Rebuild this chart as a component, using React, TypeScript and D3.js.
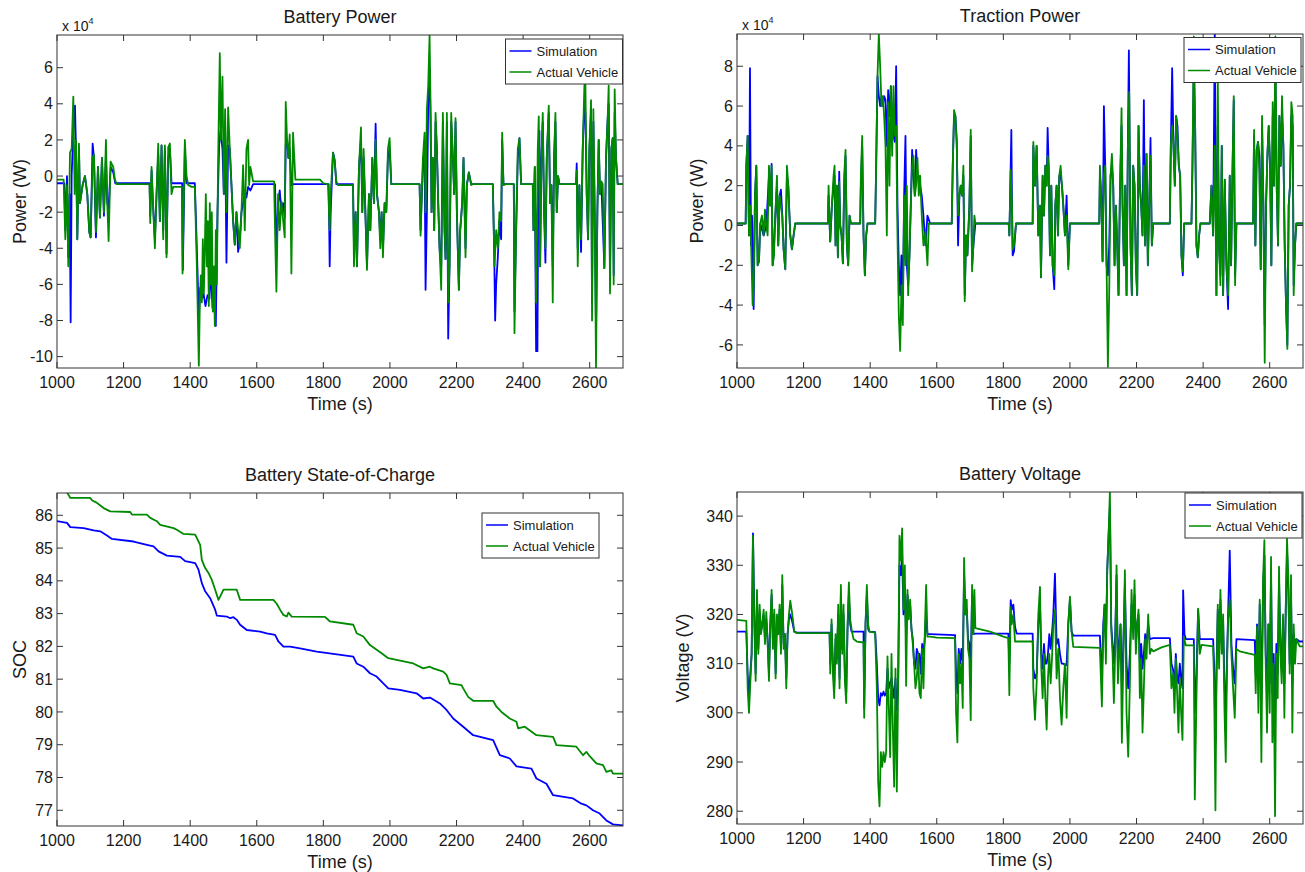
import React from 'react';
import * as d3 from 'd3';

type Pt = [number, number];

// shared x axis
const timeDomain: Pt = [1000, 2700];
const timeTicks = [1000, 1200, 1400, 1600, 1800, 2000, 2200, 2400, 2600];
const legendLabels = ['Simulation', 'Actual Vehicle'];

// Battery power (x 10^4 W)
const batPowerTicks = [-10, -8, -6, -4, -2, 0, 2, 4, 6];
const batPowerSim: Pt[] = [
  [1000,-0.4],[1022,-0.4],[1025,-3],[1030,0],[1034,-4.5],[1038,-1],[1041,-8.1],[1044,0],[1049,2.5],[1054,3.9],[1057,1.5],[1061,-3.5],[1066,1.5],[1069,-1.5],[1077,-0.5],[1084,0],[1091,-1],[1097,-3.1],[1101,-3.4],[1107,1.8],[1111,1.0],[1117,-3.4],[1123,0.5],[1129,-2.3],[1135,1.0],[1141,-2.2],[1147,1.0],[1151,-1.5],[1155,-1.8],[1161,0.5],[1169,0.2],[1175,-0.4],
  [1278,-0.4],[1280,-2.2],[1284,0.3],[1289,-1.8],[1294,-3.5],[1299,-1],[1304,1.2],[1309,-2.5],[1314,1.7],[1319,-3.0],[1324,1.5],[1329,-4.3],[1334,1.0],[1339,1.5],[1344,-0.4],[1376,-0.4],[1378,-5.2],[1384,1.5],[1389,-0.4],[1414,-0.4],
  [1420,-4],[1426,-7.8],[1430,-6.2],[1434,-6.8],[1440,-6.5],[1446,-7.2],[1452,-6.6],[1458,-6.8],[1462,-5],[1467,-7.3],[1472,-6],[1477,-8.3],[1482,-2],[1487,1.7],[1491,2.5],[1497,1.5],[1501,-1],[1505,2.5],[1509,-4.8],[1514,1.7],[1519,1.5],[1524,-0.5],[1529,-2.5],[1534,-3.8],[1539,-2],[1544,-4.2],[1549,-3.5],[1554,-2],[1559,-1.5],[1564,-0.8],[1569,-1.2],[1574,-0.6],[1581,-0.8],[1589,-0.45],
  [1655,-0.45],[1659,-4.5],[1664,-1.5],[1669,-0.8],[1674,-2],[1679,-1.5],[1684,-2.3],[1687,1.7],[1691,2],[1695,1],[1699,1.5],[1704,-0.5],[1710,-0.45],
  [1816,-0.45],[1819,-5],[1822,-2],[1829,1.3],[1834,0.9],[1839,-0.45],[1889,-0.45],[1892,-4],[1897,-2],[1901,-5],[1907,0.5],[1913,2.0],[1917,-2],[1921,1.0],[1927,-2.5],[1931,-5.0],[1937,-1],[1941,-3],[1947,1],[1952,-1.5],[1957,2.9],[1961,-1],[1967,-2],[1971,-3.5],[1975,-2],[1979,-4],[1984,-1.5],[1989,-2],[1994,1.0],[1999,1.5],[2004,-0.45],
  [2089,-0.45],[2092,-3.0],[2099,0.5],[2104,1.5],[2107,-6.3],[2111,-2],[2115,4],[2119,6.0],[2122,3.0],[2125,-2],[2129,1],[2133,-3],[2137,3.0],[2141,1.5],[2145,-1.5],[2149,-4],[2154,-5.0],[2159,3.0],[2164,-3],[2167,-4.6],[2171,3.0],[2175,-9.0],[2179,-5],[2184,3.0],[2189,1],[2193,-1],[2197,3.0],[2201,-2],[2207,-6.3],[2211,-3],[2217,-1.5],[2221,1.0],[2227,-4.0],[2231,-0.5],[2237,0.2],[2244,-0.45],
  [2309,-0.45],[2313,-4],[2316,-8],[2319,-6],[2324,-4.5],[2329,-2.5],[2334,-3.5],[2337,2.0],[2341,-0.45],[2372,-0.45],[2374,-7.5],[2379,-3],[2384,1.0],[2389,2.1],[2394,-0.45],
  [2429,-0.45],[2431,-3],[2435,0.5],[2439,-9.7],[2443,-9.7],[2446,1.5],[2449,2.5],[2451,-5],[2455,1],[2459,3.0],[2463,-2],[2467,-4.8],[2471,1],[2477,3.5],[2481,-1.5],[2485,-0.5],[2489,-5.0],[2493,1.0],[2497,3.0],[2501,-2],[2505,0],[2509,-0.45],
  [2559,-0.45],[2561,0.7],[2564,-4],[2569,-0.5],[2574,-4.2],[2579,1.5],[2584,4],[2587,3.5],[2591,-1],[2595,-3.5],[2599,1.5],[2604,3.5],[2607,-7],[2611,3.0],[2615,-2],[2619,-8.5],[2623,-2],[2627,2],[2631,-1],[2635,-0.45],[2644,-5.1],[2649,1],[2654,3.2],[2657,4.0],[2661,-5.5],[2665,1.5],[2669,2.1],[2672,-5.5],[2675,3.5],[2679,1],[2684,-0.45],[2700,-0.45],
];
const batPowerVeh: Pt[] = [
  [1000,-0.2],[1020,-0.2],[1025,-3.5],[1030,-0.5],[1034,-5.0],[1039,1.3],[1044,1.5],[1049,4.4],[1053,-1],[1057,2.0],[1061,-3.5],[1066,1.8],[1069,-1.5],[1077,-0.5],[1084,0],[1091,-1],[1097,-3.1],[1101,-3.4],[1107,1.0],[1111,1.2],[1117,-3.1],[1123,0.5],[1129,-2.3],[1135,1.0],[1141,-2.0],[1147,2.0],[1151,-1.5],[1155,-3.6],[1161,0.8],[1169,0.5],[1174,-0.2],[1179,-0.45],
  [1278,-0.45],[1280,-2.6],[1284,0.5],[1289,-1.8],[1294,-4.0],[1299,-1],[1304,1.8],[1309,-2.5],[1314,1.7],[1319,-3.5],[1324,1.7],[1329,-4.5],[1334,1.6],[1339,1.8],[1344,-1.0],[1349,-0.6],[1375,-0.6],[1377,-5.4],[1384,2.0],[1389,0],[1394,-0.5],[1404,-0.6],[1414,-0.6],
  [1420,-5],[1426,-10.5],[1429,-7],[1432,-5.5],[1435,-7],[1438,-3.5],[1441,-6.5],[1444,-4],[1447,-1],[1450,-5],[1453,-2.5],[1456,-7.2],[1459,-1.5],[1462,-6],[1465,-2],[1468,-7.5],[1471,-5],[1474,-8.3],[1477,-3],[1480,-6],[1484,1.0],[1489,6.8],[1492,2],[1497,5.5],[1501,-1],[1505,3.7],[1509,-2],[1514,3.8],[1519,1.5],[1524,-0.5],[1529,-2.5],[1534,-3.8],[1539,-2],[1544,-3],[1549,-4.0],[1554,-2],[1559,0.6],[1564,-3],[1569,1.5],[1574,2],[1577,-0.5],[1581,0.5],[1589,-0.3],
  [1652,-0.3],[1656,-4],[1659,-6.4],[1664,-1],[1669,-3],[1674,-1.4],[1679,-2.4],[1684,-3.4],[1687,4.1],[1691,2],[1695,1],[1699,2.3],[1704,-5.4],[1709,2.4],[1716,-0.2],[1790,-0.2],[1800,-0.4],
  [1814,-0.45],[1819,-3],[1822,-1],[1829,1.3],[1834,0.8],[1839,-0.3],[1844,-0.5],[1889,-0.5],[1892,-5],[1897,-2],[1901,-5],[1907,0.5],[1913,2.7],[1917,-2],[1921,1.5],[1927,-2.5],[1931,-5.2],[1937,-1],[1941,-3],[1947,1],[1952,-1.5],[1957,2.0],[1961,-1],[1967,-2],[1971,-4],[1975,-2],[1979,-4.5],[1984,-1.5],[1989,-2],[1994,1.5],[1999,2.1],[2004,-0.45],
  [2089,-0.45],[2092,-3.3],[2099,1],[2104,2.4],[2107,-2],[2111,3.7],[2115,5],[2119,7.8],[2122,3.9],[2125,-2],[2129,1],[2133,-3],[2137,3.5],[2141,1.5],[2145,-1.5],[2149,-4],[2154,-6.3],[2159,3.5],[2164,-3],[2167,-4.6],[2171,3.5],[2175,-7.0],[2179,-5],[2184,3.5],[2189,1],[2193,-1],[2197,3.2],[2201,-2],[2207,-6.3],[2211,-3],[2217,-1.5],[2221,1.0],[2227,-4.5],[2231,-0.5],[2237,0.2],[2244,-0.5],[2249,-0.45],
  [2309,-0.45],[2314,-5],[2319,-3],[2324,-4],[2329,-2],[2334,-2.5],[2337,2.4],[2341,-0.5],[2349,-0.45],[2372,-0.45],[2374,-8.7],[2379,-3],[2384,1.5],[2389,2.1],[2394,-0.45],
  [2429,-0.45],[2431,-3],[2435,0.5],[2439,-7],[2444,1.5],[2447,3.3],[2451,-5],[2455,1],[2459,3.5],[2463,-2],[2467,-4],[2471,1],[2477,3.9],[2481,-1.5],[2485,-0.5],[2489,-7.0],[2493,1.0],[2497,3.5],[2501,-2],[2505,0],[2509,-0.45],
  [2559,-0.45],[2561,0.3],[2564,-5],[2569,-0.5],[2574,-3.5],[2579,1.5],[2584,5],[2587,5.2],[2591,-1],[2595,-3.5],[2599,1.5],[2604,4.2],[2607,-8],[2611,3.7],[2615,-2],[2619,-10.6],[2623,-2],[2627,2],[2631,-1],[2635,-0.3],[2639,-0.45],[2644,-5.1],[2649,1],[2654,3.2],[2657,5.0],[2661,-6.5],[2665,1.5],[2669,2.1],[2672,-6],[2675,4.8],[2679,1],[2684,-0.45],[2700,-0.45],
];

// Traction power (x 10^4 W)
const tracPowerTicks = [-6, -4, -2, 0, 2, 4, 6, 8];
const tracPowerSim: Pt[] = [
  [1000,0.1],[1026,0.1],[1028,3],[1032,4.5],[1036,-0.5],[1039,7.9],[1042,-1],[1045,0.5],[1050,-4.2],[1054,1.5],[1058,3],[1062,-2],[1066,-1.8],[1070,0.1],[1080,-0.5],[1088,0],[1096,2.5],[1100,1],[1104,3.1],[1107,-2],[1110,-1.5],[1115,0.5],[1120,2],[1124,-1],[1128,1.5],[1132,1.8],[1136,0.5],[1140,-1.2],[1145,-2.2],[1150,2.5],[1154,2.0],[1160,-0.5],[1165,-1.2],[1170,-0.5],[1175,0.1],
  [1273,0.1],[1275,1.5],[1280,-0.8],[1285,1],[1290,2.0],[1293,2.5],[1296,-1],[1300,2],[1303,-1.6],[1307,2.7],[1310,0],[1314,-0.5],[1318,-1.9],[1322,2.0],[1326,3.5],[1330,-1],[1334,-2],[1338,0.5],[1342,0.1],
  [1370,0.1],[1372,2.0],[1376,4.0],[1380,-0.5],[1384,-2.5],[1388,-0.5],[1392,0.1],[1415,0.1],[1418,3],[1422,7.5],[1426,6.5],[1430,6.0],[1434,6.5],[1438,6.0],[1442,6.5],[1446,6.3],[1450,4],[1454,6.8],[1458,5.5],[1462,7],[1466,5.5],[1470,4.5],[1474,4.2],[1478,8],[1482,1],[1486,-2],[1490,-3.5],[1494,-1.5],[1498,-4],[1502,1.5],[1506,4.5],[1510,-2.0],[1514,-3.0],[1518,-1.5],[1522,1],[1526,3.8],[1530,2.5],[1534,1.5],[1538,3.8],[1542,2.5],[1546,2.5],[1550,2.0],[1555,1.5],[1560,0.5],[1566,-1],[1572,0.5],[1576,0.3],[1580,0.1],
  [1645,0.1],[1648,3],[1652,5.5],[1656,5.5],[1660,4.3],[1664,-1],[1668,1.5],[1672,2],[1676,1.5],[1680,2.5],[1684,-3.5],[1688,-0.5],[1692,-1.5],[1698,1],[1702,4.5],[1706,-2.0],[1710,-1],[1716,0.1],
  [1816,0.1],[1818,-0.5],[1821,2],[1824,4.8],[1826,1],[1828,-1.5],[1832,-1.3],[1838,0.1],[1888,0.1],[1890,4.0],[1895,2],[1900,4],[1905,-0.5],[1910,1],[1913,-2.6],[1918,2.5],[1922,0.5],[1926,3],[1930,2],[1933,4.9],[1936,3],[1940,-1.5],[1944,2],[1948,-2],[1953,-3.2],[1956,1],[1960,2],[1964,-0.5],[1968,2.5],[1972,2.5],[1976,2],[1980,1],[1985,-0.5],[1990,1.5],[1995,-2.0],[2000,0.1],
  [2088,0.1],[2090,2.5],[2094,1.5],[2098,-1.8],[2102,6.0],[2106,3],[2110,-2],[2114,-2.5],[2118,-1],[2122,2.5],[2126,3],[2130,2],[2134,-2],[2138,1],[2142,-1],[2146,-3.5],[2150,1.5],[2155,5],[2158,1],[2162,-2],[2166,2],[2170,-3.5],[2174,4.0],[2177,8.8],[2182,-1],[2186,-3.5],[2190,3],[2194,2],[2198,-2],[2202,-3.5],[2206,5],[2210,2],[2214,1],[2218,-0.5],[2222,6.3],[2226,-1],[2230,3.6],[2234,-2],[2238,1],[2242,4.4],[2246,-1],[2250,0.1],
  [2300,0.1],[2303,4],[2307,7.9],[2311,4],[2315,2],[2319,5.5],[2323,5],[2327,3],[2331,2.5],[2335,-1.5],[2339,-2.5],[2343,0.1],[2365,0.1],[2368,3],[2372,8],[2376,5],[2380,-1],[2384,-1.6],[2388,-0.5],[2392,0.1],
  [2420,0.1],[2425,2],[2430,-0.5],[2435,9.6],[2440,-3.5],[2444,5],[2448,-1.2],[2452,-2.5],[2456,4],[2460,-3.5],[2465,2.3],[2470,-2],[2475,-4.2],[2480,2.5],[2484,-2],[2488,2.5],[2492,6.3],[2496,-2.5],[2500,0.1],
  [2550,0.1],[2553,4.5],[2557,-1],[2561,3.8],[2565,4.2],[2569,3.5],[2573,-2.2],[2577,5],[2581,1],[2585,-5],[2589,1],[2593,3.5],[2597,5],[2601,3],[2605,-2],[2609,5.5],[2613,2],[2617,8],[2621,2],[2625,-1],[2629,5.5],[2633,3],[2637,5.5],[2641,4],[2645,-1],[2649,-4],[2653,-6.0],[2657,1],[2661,2],[2665,5.5],[2669,5],[2672,-3],[2676,-1],[2680,0.1],[2700,0.1],
];
const tracPowerVeh: Pt[] = [
  [1000,0.1],[1026,0.1],[1028,3],[1032,4.5],[1036,-0.5],[1040,1],[1043,-1.4],[1047,-4.0],[1050,-3],[1054,1.5],[1058,3],[1062,-2],[1066,-1.8],[1070,0.1],[1075,0.5],[1080,-0.5],[1084,0.8],[1088,0],[1092,-0.5],[1096,3.0],[1100,1],[1104,3],[1107,-2],[1111,-1.5],[1115,0.5],[1120,2.5],[1124,-1],[1128,1.5],[1132,1],[1136,0.5],[1140,-1.2],[1145,-2.2],[1150,3.0],[1154,2.0],[1160,-0.5],[1165,-1.2],[1170,-0.5],[1175,0.1],
  [1273,0.1],[1275,2],[1280,-0.8],[1285,1],[1290,2.5],[1293,3.0],[1296,-1],[1300,2],[1303,-1.6],[1307,2.2],[1310,0],[1314,-0.5],[1318,-1.9],[1322,2.5],[1326,3.8],[1330,-1],[1334,-2],[1338,0.5],[1342,0.1],
  [1370,0.1],[1372,2.5],[1376,4.5],[1380,-0.5],[1384,-2.5],[1388,-0.5],[1392,0.1],[1415,0.1],[1418,3],[1422,7.5],[1426,9.6],[1430,8],[1434,6],[1438,6.5],[1442,5.5],[1446,4],[1450,-0.5],[1454,6.2],[1458,2],[1462,7],[1466,3.5],[1470,7],[1474,4.5],[1478,5],[1482,-0.5],[1486,-4.5],[1490,-6.3],[1494,-3],[1498,-5],[1502,1.5],[1506,-2],[1510,2.0],[1514,-3.5],[1518,-1.5],[1522,1],[1526,3.0],[1530,3.5],[1534,1.5],[1538,2],[1542,3.4],[1546,1.5],[1550,2.5],[1555,0.5],[1560,-1],[1566,-0.3],[1572,-2.0],[1576,0.1],
  [1645,0.1],[1648,3],[1652,5.8],[1656,5.5],[1660,4],[1664,0.5],[1668,1.5],[1672,2],[1676,1.5],[1680,3],[1684,-3.8],[1688,-0.5],[1692,-1.5],[1698,1],[1702,4.8],[1706,-2.3],[1710,-1],[1713,0.5],[1716,0.1],
  [1816,0.1],[1818,-0.5],[1822,2.8],[1826,1],[1828,-1.2],[1832,-1],[1838,0.1],[1888,0.1],[1890,4.2],[1895,2],[1900,4],[1905,-0.5],[1910,1],[1913,-2.6],[1918,2.5],[1922,0.5],[1926,3],[1930,2],[1933,3.5],[1936,3],[1940,-1.5],[1944,2],[1948,-2],[1953,-2.5],[1956,1],[1960,2],[1964,-0.5],[1968,2.5],[1972,3],[1976,2],[1980,1],[1985,-0.5],[1990,0.5],[1995,-2.2],[2000,0.1],
  [2088,0.1],[2090,3],[2094,1.5],[2098,-1.8],[2102,2.5],[2106,3],[2110,-2],[2114,-7.1],[2118,-3.3],[2122,2.5],[2126,3.6],[2130,2],[2134,-2],[2138,1],[2142,-1],[2146,-3.5],[2150,1.5],[2155,5.9],[2158,1],[2162,-2],[2166,2],[2170,-3.5],[2174,4.0],[2178,6.7],[2182,-1],[2186,-3.5],[2190,3],[2194,2],[2198,-2],[2202,-3.5],[2206,5],[2210,2],[2214,1],[2218,-0.5],[2222,3],[2226,-1],[2230,3.6],[2234,-2],[2238,1],[2242,3.5],[2246,-1],[2250,0.1],
  [2300,0.1],[2303,4],[2307,5],[2311,4],[2315,2],[2319,5.5],[2323,4.5],[2327,3],[2331,2.5],[2335,-1.5],[2339,-2.3],[2343,0.1],[2365,0.1],[2368,3],[2372,9.5],[2376,5],[2380,-1],[2384,-1.6],[2388,-0.5],[2392,0.1],
  [2420,0.1],[2425,2],[2430,-0.5],[2435,4],[2440,-3.5],[2444,7.5],[2448,-1.2],[2452,-3],[2456,4],[2460,-3.5],[2465,2.3],[2470,-2],[2475,-3.5],[2480,2.5],[2484,-2],[2488,2.5],[2492,6.5],[2496,-3.0],[2500,0.1],
  [2550,0.1],[2553,4.8],[2557,-1],[2561,3.8],[2565,4.2],[2569,2.7],[2573,-2.2],[2577,5.5],[2581,1],[2585,-6.9],[2589,1],[2593,3.5],[2597,5],[2601,3],[2605,-2],[2609,6.2],[2613,2],[2617,9.5],[2621,2],[2625,-1],[2629,5.5],[2633,3],[2637,6.5],[2641,4],[2645,-1],[2649,-4],[2653,-6.2],[2657,1],[2661,2],[2665,6.2],[2669,5.5],[2672,-3.5],[2676,-1],[2680,0.1],[2700,0.1],
];

// Battery state of charge (%)
const socTicks = [77, 78, 79, 80, 81, 82, 83, 84, 85, 86];
const socSim: Pt[] = [
  [1000,85.82],[1030,85.77],[1040,85.64],[1080,85.61],[1110,85.54],[1130,85.51],[1150,85.38],[1165,85.28],[1230,85.2],[1270,85.1],[1290,85.05],[1305,84.9],[1330,84.77],[1370,84.73],[1385,84.6],[1415,84.54],[1425,84.34],[1435,83.93],[1445,83.68],[1460,83.47],[1475,83.12],[1480,82.94],[1510,82.91],[1520,82.86],[1530,82.89],[1540,82.81],[1550,82.66],[1570,82.5],[1610,82.45],[1630,82.4],[1655,82.35],[1665,82.15],[1680,81.99],[1700,81.99],[1730,81.94],[1780,81.84],[1830,81.77],
  [1890,81.69],[1900,81.48],[1920,81.38],[1940,81.18],[1960,81.08],[1980,80.87],[1995,80.72],[2030,80.67],[2080,80.57],[2100,80.41],[2120,80.44],[2150,80.26],[2170,80.06],[2190,79.8],[2220,79.55],[2250,79.29],[2280,79.22],[2310,79.14],[2330,78.68],[2360,78.58],[2380,78.34],[2425,78.27],[2440,77.97],[2470,77.81],[2490,77.46],[2550,77.36],[2575,77.2],[2590,77.15],[2610,77.0],[2630,76.9],[2650,76.69],[2670,76.57],[2700,76.54],
];
const socVeh: Pt[] = [
  [1000,86.95],[1030,86.7],[1040,86.53],[1100,86.53],[1105,86.46],[1120,86.38],[1130,86.3],[1140,86.22],[1160,86.12],[1220,86.1],[1225,86.02],[1270,86.02],[1280,85.92],[1300,85.82],[1310,85.71],[1350,85.61],[1360,85.56],[1380,85.43],[1415,85.41],[1430,85.1],[1435,84.64],[1445,84.39],[1455,84.24],[1465,84.03],[1475,83.73],[1485,83.42],[1490,83.52],[1500,83.73],[1540,83.73],[1550,83.42],[1650,83.42],[1660,83.3],[1670,83.12],[1680,82.96],[1690,82.91],[1695,83.03],[1705,82.91],[1805,82.9],[1820,82.76],
  [1890,82.66],[1900,82.4],[1920,82.3],[1940,82.04],[1975,81.79],[1995,81.64],[2070,81.48],[2100,81.33],[2120,81.38],[2130,81.33],[2160,81.23],[2170,81.13],[2180,80.87],[2215,80.82],[2220,80.72],[2235,80.46],[2250,80.34],[2310,80.34],[2320,80.16],[2335,80.0],[2360,79.8],[2380,79.7],[2385,79.5],[2405,79.55],[2440,79.29],[2490,79.24],[2500,78.99],[2560,78.94],[2580,78.68],[2590,78.78],[2600,78.65],[2620,78.43],[2640,78.38],[2650,78.17],[2665,78.22],[2670,78.12],[2700,78.12],
];

// Battery voltage (V)
const voltTicks = [280, 290, 300, 310, 320, 330, 340];
const voltSim: Pt[] = [
  [1000,316.5],[1028,316.5],[1032,308],[1036,303],[1040,308],[1044,312],[1048,336.5],[1052,320],[1056,308],[1060,323],[1064,313],[1068,320],[1072,316.5],[1080,320],[1084,315],[1088,319],[1092,315],[1096,308],[1100,318],[1104,324],[1108,314],[1112,320],[1116,308],[1120,319],[1124,316],[1128,321],[1132,313],[1136,326],[1140,314],[1144,316],[1148,307],[1152,316],[1156,319],[1160,320],[1166,318.5],[1172,316.5],[1180,316.3],
  [1278,316.3],[1280,310],[1284,318],[1288,310],[1292,305],[1296,315],[1300,311],[1304,320],[1308,307],[1312,324],[1316,313],[1320,320],[1324,308],[1328,304],[1332,317],[1336,324],[1340,318],[1344,316.5],[1380,316.5],[1382,301],[1386,318],[1390,324],[1394,317],[1398,316.5],[1415,316.4],
  [1420,310],[1424,303],[1428,301.5],[1432,304],[1436,303.5],[1440,304.3],[1444,303.5],[1448,304],[1452,309],[1456,305],[1460,306],[1464,307],[1468,305],[1472,303],[1476,307],[1480,300.5],[1484,306],[1488,330],[1492,328],[1496,332],[1500,320],[1504,326],[1508,315],[1512,324],[1516,320],[1520,322],[1524,317],[1528,315],[1532,310],[1536,309],[1540,313],[1544,312],[1548,312],[1552,308],[1556,314],[1560,312],[1564,315],[1568,320],[1572,316],[1580,316],[1655,315.8],
  [1658,308],[1662,304],[1666,313],[1670,310],[1674,313],[1678,310],[1682,328],[1686,320],[1690,321],[1694,315],[1698,314],[1702,310],[1706,324],[1710,316],[1716,316.1],[1815,316.1],[1818,310],[1822,322.9],[1825,321],[1830,322],[1835,317.5],[1840,316.1],[1888,316.1],
  [1890,309],[1895,307],[1900,308],[1905,318],[1910,322],[1914,312],[1918,309],[1922,314],[1926,310],[1930,310],[1934,312],[1938,316],[1942,313],[1946,316],[1950,320],[1955,328.3],[1960,314],[1965,315],[1970,312],[1975,310],[1980,310],[1985,309.7],[1990,309.7],[1995,318],[2000,323],[2005,316.5],[2010,315.7],[2090,315.7],
  [2092,312],[2096,308],[2100,318],[2104,322],[2108,314],[2112,329],[2116,336],[2120,342],[2124,318],[2128,314],[2132,310],[2136,316],[2140,328],[2144,310],[2148,314],[2152,318],[2156,305],[2160,313],[2165,326],[2170,310],[2175,305],[2180,312],[2185,322],[2190,317],[2194,324],[2198,314],[2202,318],[2206,320],[2210,310],[2214,314],[2218,309],[2222,312],[2226,316],[2230,314],[2235,318],[2240,315],[2250,315.2],[2300,315.2],
  [2305,310],[2310,308.7],[2314,305],[2318,312],[2322,307],[2326,306],[2330,310],[2334,307],[2338,305],[2340,324.9],[2344,316],[2348,315.0],[2372,315.0],[2375,300],[2380,308],[2385,321],[2390,315],[2395,315],[2430,315],
  [2433,310],[2437,294],[2440,308],[2444,321],[2448,312],[2452,323],[2456,314],[2460,319],[2464,306],[2468,300],[2472,312],[2475,320],[2480,333],[2485,314],[2490,309],[2495,306],[2500,315],[2555,314.8],
  [2558,308],[2562,318],[2566,306],[2570,322],[2575,303],[2580,325],[2584,332],[2588,312],[2592,304],[2596,318],[2600,306],[2604,328],[2608,304],[2612,312],[2616,300],[2620,314],[2624,308],[2628,327],[2632,314],[2636,310],[2640,319],[2644,306],[2648,320],[2652,333],[2656,325],[2660,310],[2664,324],[2668,306],[2672,316],[2676,314],[2680,315],[2690,314.5],[2700,314.5],
];
const voltVeh: Pt[] = [
  [1000,318.9],[1028,318.7],[1032,305],[1036,300],[1040,306],[1044,312],[1048,336],[1052,318],[1056,306.5],[1060,325],[1064,312],[1068,322],[1072,316],[1076,318],[1080,321],[1084,314],[1088,320.5],[1092,314],[1096,306.5],[1100,318],[1104,325],[1108,313],[1112,321],[1116,307],[1120,320],[1124,316],[1128,322],[1132,312],[1136,328],[1140,313],[1144,316],[1148,305],[1152,316],[1156,320],[1160,322.8],[1166,320],[1172,316.5],[1180,316.2],
  [1278,316.2],[1280,308],[1284,319],[1288,308],[1292,303],[1296,316],[1300,310],[1304,322],[1308,305],[1312,326],[1316,312],[1320,322],[1324,306.5],[1328,302],[1332,318],[1336,326.5],[1340,319],[1344,317],[1350,315],[1360,314.5],[1380,314.3],[1382,299],[1386,318],[1390,326],[1394,318],[1398,316.5],[1415,316.3],
  [1420,305],[1424,286],[1428,281],[1432,292],[1436,289],[1440,292],[1444,290],[1448,292],[1452,311.5],[1456,301],[1460,291],[1464,312],[1468,297],[1472,285],[1476,309],[1480,284],[1484,305],[1488,336],[1492,331],[1496,337.5],[1500,321],[1504,330],[1508,305.5],[1512,325],[1516,319],[1520,323],[1524,317],[1528,314],[1532,310],[1536,305],[1540,307],[1544,312],[1548,304],[1552,303],[1556,313],[1560,305],[1564,316],[1568,326],[1572,315.5],[1580,315.5],[1600,315.3],[1655,315.2],
  [1658,300],[1662,294],[1666,312],[1670,306],[1674,310],[1678,301],[1682,331.5],[1686,320],[1690,323],[1694,313],[1698,311],[1702,298.5],[1706,326],[1710,316],[1713,325],[1716,317.2],[1760,316.5],[1800,315.5],[1815,315.2],[1818,303.6],[1822,321.5],[1825,318],[1830,320],[1835,314.5],[1888,314.5],
  [1890,305],[1895,298.6],[1900,306],[1905,320],[1910,325.6],[1914,309],[1918,303],[1922,312],[1926,303],[1930,296.6],[1934,307],[1938,312],[1942,306],[1946,311],[1950,318],[1955,321],[1960,307],[1965,313],[1970,303],[1975,297.6],[1980,305],[1985,310],[1990,299],[1995,318],[2000,323.6],[2005,316.5],[2010,313.4],[2090,313.2],
  [2092,309],[2096,301.3],[2100,316],[2104,322],[2108,310],[2112,329],[2116,336],[2120,345],[2124,317],[2128,312],[2132,302],[2136,313],[2140,330],[2144,306],[2148,312],[2152,318],[2156,293.9],[2160,310],[2165,329],[2170,300],[2175,291.1],[2180,306],[2185,325],[2190,315],[2194,327],[2198,312],[2202,318],[2206,321],[2210,303],[2214,311],[2218,296],[2222,305],[2226,315],[2230,311],[2235,320],[2240,312],[2245,313],[2250,312.5],[2275,313.3],[2300,313.8],
  [2305,305],[2310,308],[2314,300],[2318,311],[2322,304],[2326,296],[2330,307],[2334,300],[2338,294.5],[2342,315.5],[2348,313.7],[2372,313.7],[2375,282.4],[2380,303],[2385,321.2],[2390,312],[2395,313.8],[2430,313.5],
  [2433,306],[2437,280.2],[2440,305],[2444,322],[2448,309],[2452,325],[2456,312],[2460,320],[2464,301],[2468,290],[2472,310],[2475,319],[2480,323],[2485,312],[2490,305],[2495,299],[2500,313],[2510,312.5],[2555,311.8],
  [2558,304],[2562,317.5],[2566,300],[2570,323],[2575,290],[2580,327],[2584,335.1],[2588,310],[2592,296],[2596,318],[2600,300],[2604,331.7],[2608,294],[2612,310],[2616,279],[2620,312],[2624,303],[2628,329.7],[2632,312],[2636,306],[2640,320],[2644,299],[2648,321],[2652,335.4],[2656,327],[2660,308],[2664,328],[2668,296],[2672,318],[2676,310],[2680,315],[2690,313.5],[2700,313.5],
];

const SIM = '#0000ff';
const VEH = '#008a00';
const INK = '#1a1a1a';
const FONT = 'Liberation Sans, Arial, Helvetica, sans-serif';

type Box = { left: number; top: number; right: number; bottom: number };

const Panel = ({ id, box, title, yLabel, yLabelX, yDomain, yTicks, sim, veh, legendAt, exponent }: {
  id: string; box: Box; title: string; yLabel: string; yLabelX: number;
  yDomain: Pt; yTicks: number[]; sim: Pt[]; veh: Pt[]; legendAt: [number, number]; exponent?: boolean;
}) => {
  const x = d3.scaleLinear().domain(timeDomain).range([box.left, box.right]);
  const y = d3.scaleLinear().domain(yDomain).range([box.bottom, box.top]);
  const line = d3.line<Pt>().x(d => x(d[0])).y(d => y(d[1]));
  const cx = (box.left + box.right) / 2;
  const cy = (box.top + box.bottom) / 2;
  const tk = 6;
  const [lx, ly] = legendAt;

  return (
    <g fontFamily={FONT} fill={INK}>
      <defs>
        <clipPath id={id}>
          <rect x={box.left} y={box.top} width={box.right - box.left} height={box.bottom - box.top} />
        </clipPath>
      </defs>
      <text x={cx} y={box.top - 12} textAnchor="middle" fontSize={18}>{title}</text>
      {exponent && (
        <text x={box.left + 5} y={box.top - 4} fontSize={14}>
          x 10<tspan fontSize={9} dy={-7}>4</tspan>
        </text>
      )}
      <g clipPath={`url(#${id})`} fill="none" strokeWidth={1.8} strokeLinejoin="round">
        <path d={line(sim) ?? ''} stroke={SIM} />
        <path d={line(veh) ?? ''} stroke={VEH} />
      </g>
      <rect x={box.left} y={box.top} width={box.right - box.left} height={box.bottom - box.top}
        fill="none" stroke="#333" strokeWidth={1} />
      {timeTicks.map(t => (
        <g key={`x${t}`}>
          <line x1={x(t)} x2={x(t)} y1={box.bottom} y2={box.bottom - tk} stroke="#333" />
          <line x1={x(t)} x2={x(t)} y1={box.top} y2={box.top + tk} stroke="#333" />
          <text x={x(t)} y={box.bottom + 20} textAnchor="middle" fontSize={16}>{t}</text>
        </g>
      ))}
      {yTicks.map(v => (
        <g key={`y${v}`}>
          <line x1={box.left} x2={box.left + tk} y1={y(v)} y2={y(v)} stroke="#333" />
          <line x1={box.right} x2={box.right - tk} y1={y(v)} y2={y(v)} stroke="#333" />
          <text x={box.left - 4} y={y(v)} dy="0.35em" textAnchor="end" fontSize={16}>{v}</text>
        </g>
      ))}
      <text x={cx} y={box.bottom + 42} textAnchor="middle" fontSize={18}>Time (s)</text>
      <text transform={`translate(${yLabelX},${cy}) rotate(-90)`} textAnchor="middle" fontSize={18}>{yLabel}</text>
      <g transform={`translate(${lx},${ly})`}>
        <rect width={117} height={45} fill="#fff" stroke="#333" strokeWidth={1} />
        {legendLabels.map((label, i) => (
          <g key={label} transform={`translate(0,${12 + i * 21})`}>
            <line x1={4} x2={26} y1={0} y2={0} stroke={i === 0 ? SIM : VEH} strokeWidth={1.5} />
            <text x={31} y={0} dy="0.35em" fontSize={13}>{label}</text>
          </g>
        ))}
      </g>
    </g>
  );
};

const App = () => (
  <svg width={1305} height={872} style={{ position: 'absolute', left: 0, top: 0, background: '#fff' }}>
    <Panel id="bp" box={{ left: 57, top: 35, right: 623, bottom: 368 }} title="Battery Power" yLabel="Power (W)" yLabelX={26}
      yDomain={[-10.63, 7.81]} yTicks={batPowerTicks} sim={batPowerSim} veh={batPowerVeh} legendAt={[505.5, 39]} exponent />
    <Panel id="tp" box={{ left: 737, top: 34, right: 1303, bottom: 368 }} title="Traction Power" yLabel="Power (W)" yLabelX={703}
      yDomain={[-7.16, 9.62]} yTicks={tracPowerTicks} sim={tracPowerSim} veh={tracPowerVeh} legendAt={[1184, 37.5]} exponent />
    <Panel id="soc" box={{ left: 57, top: 493, right: 623, bottom: 826 }} title="Battery State-of-Charge" yLabel="SOC" yLabelX={26}
      yDomain={[76.52, 86.68]} yTicks={socTicks} sim={socSim} veh={socVeh} legendAt={[482, 513]} />
    <Panel id="volt" box={{ left: 737, top: 492, right: 1303, bottom: 824 }} title="Battery Voltage" yLabel="Voltage (V)" yLabelX={689}
      yDomain={[277.4, 344.9]} yTicks={voltTicks} sim={voltSim} veh={voltVeh} legendAt={[1185, 493]} />
  </svg>
);

export default App;
